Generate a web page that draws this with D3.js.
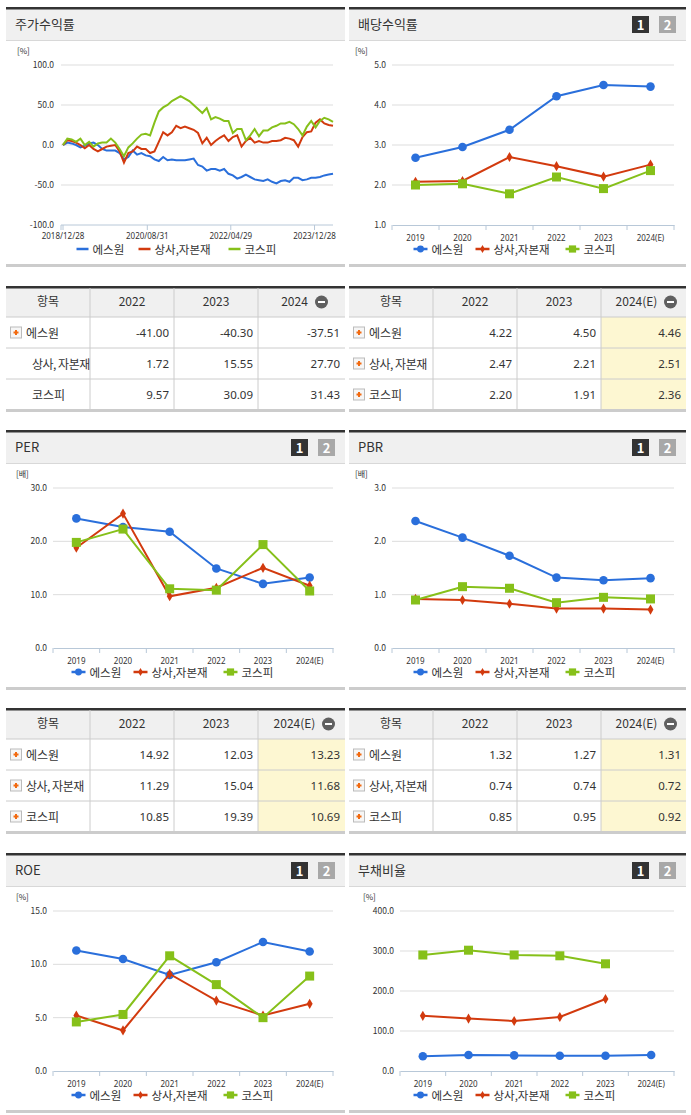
<!DOCTYPE html>
<html><head><meta charset="utf-8">
<script src="https://cdn.jsdelivr.net/npm/d3@7"></script>
<style>body{margin:0;background:#fff;}svg text{font-family:"Noto Sans CJK KR","Noto Sans",sans-serif;}</style>
</head><body><svg id="c" width="691" height="1115"></svg>
<script>
const seriesNames = ["에스원","상사,자본재","코스피"];
const colors = ["#2a6fdb","#d23a0e","#86c01a"];
const years = ["2019","2020","2021","2022","2023","2024(E)"];

// 주가수익률 (monthly, 2018/12 .. 2024/05)
const stockBlue = [0,3,2,0,-3,-1,2,3,0,-5,-7,-7,-7,-10,-18,-15,-7,-12,-10,-13,-14,-18,-20,-15,-19,-18,-19,-19,-19,-18,-17,-25,-27,-32,-30,-30,-32,-30,-36,-38,-42,-40,-37,-40,-43,-44,-45,-43,-46,-48,-45,-44,-46,-41,-41,-44,-43,-41,-41,-40,-38,-37,-36];
const stockRed = [0,6,5,3,0,-4,0,-5,-8,-5,-2,-1,0,-8,-22,-10,-8,-2,-5,-5,-10,-8,4,16,12,16,24,21,23,21,19,15,2,9,0,5,9,12,5,10,12,-2,5,9,3,5,3,3,5,5,6,9,8,6,-2,10,16,17,28,32,27,25,24];
const stockGreen = [0,8,7,4,8,0,4,-2,2,3,3,8,3,-5,-14,-3,2,8,13,14,12,28,42,47,50,55,58,61,58,55,50,45,40,46,32,35,33,30,30,15,20,20,6,12,20,11,18,18,22,24,27,27,29,26,20,12,23,30,22,30,34,32,29];
const stockTicks = ["2018/12/28","2020/08/31","2022/04/29","2023/12/28"];
const stockYTicks = [100,50,0,-50,-100];

const divE=[2.68,2.95,3.38,4.22,4.50,4.46], divS=[2.08,2.10,2.70,2.47,2.21,2.51], divK=[2.00,2.03,1.78,2.20,1.91,2.36];
const perE=[24.3,22.7,21.8,14.92,12.03,13.23], perS=[18.8,25.2,9.7,11.29,15.04,11.68], perK=[19.8,22.3,11.1,10.85,19.39,10.69];
const pbrE=[2.38,2.07,1.73,1.32,1.27,1.31], pbrS=[0.92,0.90,0.83,0.74,0.74,0.72], pbrK=[0.90,1.15,1.12,0.85,0.95,0.92];
const roeE=[11.3,10.5,9.0,10.2,12.1,11.2], roeS=[5.2,3.8,9.1,6.6,5.2,6.3], roeK=[4.6,5.3,10.8,8.1,5.0,8.9];
const debtE=[37,40,39,38,38,40], debtS=[138,131,125,135,180,null], debtK=[290,302,290,288,268,null];

const tblStock = {head:["항목","2022","2023","2024"], rows:[["에스원","-41.00","-40.30","-37.51"],["상사, 자본재","1.72","15.55","27.70"],["코스피","9.57","30.09","31.43"]]};
const tblDiv = {head:["항목","2022","2023","2024(E)"], rows:[["에스원","4.22","4.50","4.46"],["상사, 자본재","2.47","2.21","2.51"],["코스피","2.20","1.91","2.36"]]};
const tblPer = {head:["항목","2022","2023","2024(E)"], rows:[["에스원","14.92","12.03","13.23"],["상사, 자본재","11.29","15.04","11.68"],["코스피","10.85","19.39","10.69"]]};
const tblPbr = {head:["항목","2022","2023","2024(E)"], rows:[["에스원","1.32","1.27","1.31"],["상사, 자본재","0.74","0.74","0.72"],["코스피","0.85","0.95","0.92"]]};

const svg = d3.select("#c");
const LW=[62,90,56];

function panel(x0,w,top,title,buttons){
  const g=svg.append("g");
  g.append("rect").attr("x",x0).attr("y",top).attr("width",w).attr("height",33).attr("fill","#f0f0f0");
  g.append("rect").attr("x",x0).attr("y",top).attr("width",w).attr("height",2.5).attr("fill","#333");
  g.append("line").attr("x1",x0).attr("x2",x0+w).attr("y1",top+33.5).attr("y2",top+33.5).attr("stroke","#d8d8d8");
  g.append("text").attr("x",x0+9).attr("y",top+22).attr("font-size",13).attr("fill","#333").text(title);
  if(buttons){
    [["1","#333"],["2","#a8a8a8"]].forEach((b,i)=>{
      const bx=x0+w-54+i*27;
      g.append("rect").attr("x",bx).attr("y",top+9).attr("width",17).attr("height",17).attr("fill",b[1]);
      g.append("text").attr("x",bx+8.5).attr("y",top+22.5).attr("text-anchor","middle").attr("font-size",13).attr("font-weight","bold").attr("fill","#fff").text(b[0]);
    });
  }
  g.append("rect").attr("x",x0).attr("y",top+257).attr("width",w).attr("height",3).attr("fill","#ccc");
}

function legend(cx,y){
  const g=svg.append("g");
  let x=cx-(LW[0]+LW[1]+LW[2])/2;
  seriesNames.forEach((n,i)=>{
    g.append("line").attr("x1",x).attr("x2",x+14).attr("y1",y).attr("y2",y).attr("stroke",colors[i]).attr("stroke-width",2.5);
    marker(g,i,x+7,y,0.8);
    g.append("text").attr("x",x+18).attr("y",y+4.5).attr("font-size",11.5).attr("fill","#333").text(n);
    x+=LW[i];
  });
}
function marker(g,i,x,y,s){
  s=s||1;
  if(i===0) g.append("circle").attr("cx",x).attr("cy",y).attr("r",4.3*s).attr("fill",colors[0]);
  else if(i===1) g.append("path").attr("d",d3.symbol(d3.symbolDiamond,30*s*s)()).attr("transform",`translate(${x},${y})`).attr("fill",colors[1]);
  else g.append("rect").attr("x",x-4.5*s).attr("y",y-4.5*s).attr("width",9*s).attr("height",9*s).attr("fill",colors[2]);
}

function yearChart(x0,w,top,axisX,unit,dom,ticks,data){
  const g=svg.append("g");
  const x=d3.scaleBand().domain(years).range([axisX,x0+w-12]);
  const y=d3.scaleLinear().domain(dom).range([top+218,top+58]);
  g.append("text").attr("x",axisX-37).attr("y",top+47).attr("font-size",8).attr("fill","#333").text(unit);
  ticks.forEach(t=>{
    if(t!==dom[0]) g.append("line").attr("x1",axisX).attr("x2",x0+w-12).attr("y1",y(t)).attr("y2",y(t)).attr("stroke","#ddd");
    g.append("text").attr("x",axisX-6).attr("y",y(t)+3).attr("text-anchor","end").attr("font-size",8.5).attr("fill","#333").text(t.toFixed(1));
  });
  const ax=g.append("g").attr("transform",`translate(0,${top+218})`).call(d3.axisBottom(x).tickSize(5).tickSizeOuter(0));
  ax.select(".domain").attr("stroke","#b8c8d8");
  ax.selectAll(".tick line").attr("stroke","#b8c8d8").attr("transform",`translate(${-x.bandwidth()/2},0)`);
  ax.selectAll("text").attr("font-size",8).attr("fill","#333").attr("dy","0.95em").style("font-family","'Noto Sans',sans-serif");
  g.append("line").attr("x1",x0+w-12).attr("x2",x0+w-12).attr("y1",top+218).attr("y2",top+223).attr("stroke","#b8c8d8");
  data.forEach((arr,i)=>{
    const pts=arr.map((v,k)=>[years[k],v]).filter(p=>p[1]!=null);
    g.append("path").datum(pts).attr("fill","none").attr("stroke",colors[i]).attr("stroke-width",2)
      .attr("d",d3.line().x(p=>x(p[0])+x.bandwidth()/2).y(p=>y(p[1])));
    pts.forEach(p=>marker(g,i,x(p[0])+x.bandwidth()/2,y(p[1]),1));
  });
  legend(x0+w/2,top+242);
}

function stockChart(x0,w,top){
  const g=svg.append("g");
  const axisX=61, right=333;
  const t0=new Date(2018,11,28), t1=new Date(2024,4,10);
  const x=d3.scaleTime().domain([t0,t1]).range([axisX+2,right]);
  const y=d3.scaleLinear().domain([-100,100]).range([top+218,top+58]);
  g.append("text").attr("x",17).attr("y",top+47).attr("font-size",8).attr("fill","#333").text("[%]");
  stockYTicks.forEach(t=>{
    if(t!==-100) g.append("line").attr("x1",axisX).attr("x2",right).attr("y1",y(t)).attr("y2",y(t)).attr("stroke","#ddd");
    g.append("text").attr("x",axisX-7).attr("y",y(t)+3).attr("text-anchor","end").attr("font-size",8.5).attr("fill","#333").text(t.toFixed(1));
  });
  g.append("line").attr("x1",axisX).attr("x2",right).attr("y1",y(-100)).attr("y2",y(-100)).attr("stroke","#b8c8d8");
  g.append("line").attr("x1",axisX).attr("x2",axisX).attr("y1",y(-100)).attr("y2",y(-100)+5).attr("stroke","#b8c8d8");
  const pd=d3.timeParse("%Y/%m/%d");
  stockTicks.forEach(s=>{
    const xx=x(pd(s));
    g.append("line").attr("x1",xx).attr("x2",xx).attr("y1",y(-100)).attr("y2",y(-100)+5).attr("stroke","#b8c8d8");
    g.append("text").attr("x",xx).attr("y",y(-100)+14).attr("text-anchor","middle").attr("font-size",8).attr("fill","#333").style("font-family","'Noto Sans',sans-serif").text(s);
  });
  const n=stockBlue.length;
  const dt=i=>new Date(+t0+(t1-t0)*i/(n-1));
  [stockBlue,stockRed,stockGreen].forEach((arr,i)=>{
    g.append("path").datum(arr).attr("fill","none").attr("stroke",colors[i]).attr("stroke-width",2)
      .attr("d",d3.line().x((v,k)=>x(dt(k))).y(v=>y(v)));
  });
  let lx=x0+w/2-(LW[0]+LW[1]+LW[2])/2+5;
  seriesNames.forEach((nm,i)=>{
    g.append("line").attr("x1",lx).attr("x2",lx+12).attr("y1",top+242).attr("y2",top+242).attr("stroke",colors[i]).attr("stroke-width",2.5);
    g.append("text").attr("x",lx+16).attr("y",top+246.5).attr("font-size",11.5).attr("fill","#333").text(nm);
    lx+=LW[i];
  });
}

function table(x0,w,top,tbl,opts){
  const g=svg.append("g");
  const cw=[84,84,84,w-252]; const xs=[x0,x0+84,x0+168,x0+252,x0+w];
  const rh=31, hh=31;
  g.append("rect").attr("x",x0).attr("y",top).attr("width",w).attr("height",hh).attr("fill","#f0f0f0");
  if(opts.yellow) g.append("rect").attr("x",xs[3]).attr("y",top+hh).attr("width",cw[3]).attr("height",rh*3).attr("fill","#fdf7d2");
  g.append("rect").attr("x",x0).attr("y",top).attr("width",w).attr("height",2.5).attr("fill","#333");
  for(let r=1;r<=3;r++) g.append("line").attr("x1",x0).attr("x2",x0+w).attr("y1",top+hh+rh*(r-1)).attr("y2",top+hh+rh*(r-1)).attr("stroke","#ccc");
  g.append("rect").attr("x",x0).attr("y",top+hh+rh*3-1).attr("width",w).attr("height",3).attr("fill","#ccc");
  for(let c=1;c<4;c++) g.append("line").attr("x1",xs[c]).attr("x2",xs[c]).attr("y1",top+2).attr("y2",top+hh+rh*3).attr("stroke","#ccc");
  tbl.head.forEach((h,c)=>{
    const cx=(xs[c]+xs[c+1])/2-(c===3?7:0);
    g.append("text").attr("x",cx).attr("y",top+20).attr("text-anchor","middle").attr("font-size",12).attr("fill","#333").text(h);
  });
  const hx=(xs[3]+xs[4])/2+(tbl.head[3].length>4?27:20);
  g.append("circle").attr("cx",hx).attr("cy",top+16).attr("r",6.5).attr("fill","#606060");
  g.append("rect").attr("x",hx-3.5).attr("y",top+15).attr("width",7).attr("height",2).attr("fill","#fff");
  tbl.rows.forEach((row,r)=>{
    const cy=top+hh+rh*r+rh/2;
    const icon=opts.icons[r];
    if(icon){
      g.append("rect").attr("x",x0+4.5).attr("y",cy-5.5).attr("width",11).attr("height",11).attr("fill","#f6f6f6").attr("stroke","#bbb");
      g.append("rect").attr("x",x0+7.5).attr("y",cy-1).attr("width",5).attr("height",2).attr("fill","#f26a10");
      g.append("rect").attr("x",x0+9).attr("y",cy-2.5).attr("width",2).attr("height",5).attr("fill","#f26a10");
    }
    g.append("text").attr("x",x0+(icon?20:26)).attr("y",cy+5).attr("font-size",12).attr("fill","#333").attr("letter-spacing",row[0].length>4?-0.5:0).text(row[0]);
    for(let c=1;c<4;c++) g.append("text").attr("x",xs[c+1]-5).attr("y",cy+4.5).attr("text-anchor","end").attr("font-size",11.5).attr("fill","#333").style("font-family","'Noto Sans',sans-serif").text(row[c]);
  });
}

const L=[6,339], R=[349,337];
panel(L[0],L[1],7,"주가수익률",false);
stockChart(L[0],L[1],7);
panel(R[0],R[1],7,"배당수익률",true);
yearChart(R[0],R[1],7,392,"[%]",[1,5],[5,4,3,2,1],[divE,divS,divK]);
table(L[0],L[1],286,tblStock,{yellow:false,icons:[true,false,false]});
table(R[0],R[1],286,tblDiv,{yellow:true,icons:[true,true,true]});
panel(L[0],L[1],430,"PER",true);
yearChart(L[0],L[1],430,53,"[배]",[0,30],[30,20,10,0],[perE,perS,perK]);
panel(R[0],R[1],430,"PBR",true);
yearChart(R[0],R[1],430,392,"[배]",[0,3],[3,2,1,0],[pbrE,pbrS,pbrK]);
table(L[0],L[1],708,tblPer,{yellow:true,icons:[true,true,true]});
table(R[0],R[1],708,tblPbr,{yellow:true,icons:[true,true,true]});
panel(L[0],L[1],853,"ROE",true);
yearChart(L[0],L[1],853,53,"[%]",[0,15],[15,10,5,0],[roeE,roeS,roeK]);
panel(R[0],R[1],853,"부채비율",true);
yearChart(R[0],R[1],853,400,"[%]",[0,400],[400,300,200,100,0],[debtE,debtS,debtK]);
</script></body></html>
